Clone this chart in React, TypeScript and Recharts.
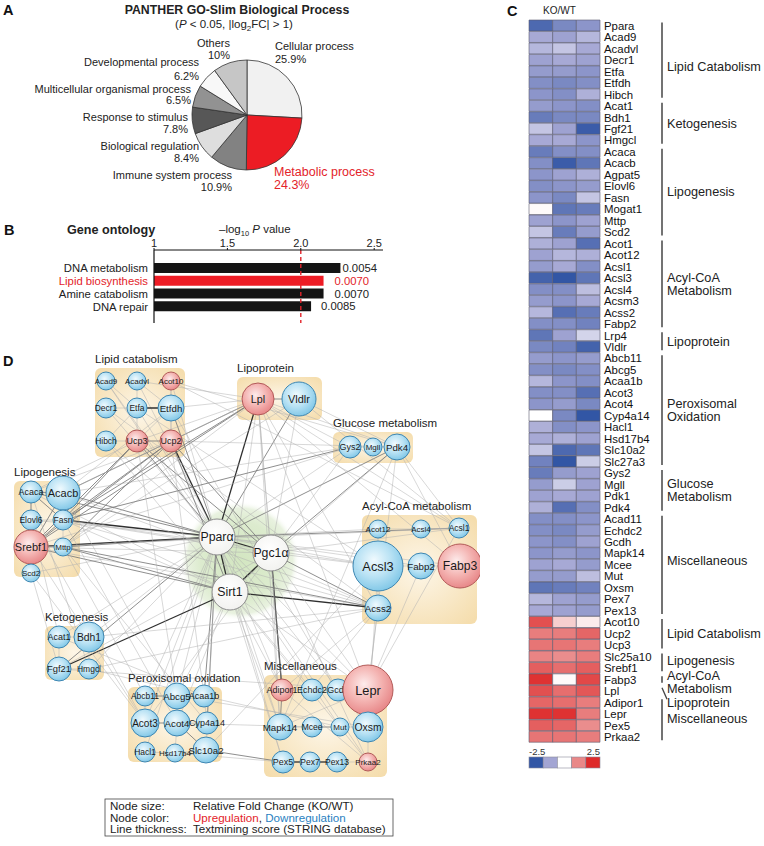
import React from 'react';
import {
  PieChart, Pie, Cell, BarChart, Bar, XAxis, YAxis, ReferenceLine, LabelList,
  ScatterChart, Scatter, ReferenceArea, ReferenceDot,
} from 'recharts';

const FONT = '"Liberation Sans", Arial, Helvetica, sans-serif';
const RED = '#e3232a';
const BLUE_TXT = '#2a7fc1';

// ---------- A: PANTHER GO-Slim pie ----------
const goProcess = [
  'Cellular process', 'Metabolic process', 'Immune system process', 'Biological regulation',
  'Response to stimulus', 'Multicellular organismal process', 'Developmental process', 'Others',
];
const goShare = [25.9, 24.3, 10.9, 8.4, 7.8, 6.5, 6.2, 10];
const goShareText = ['25.9%', '24.3%', '10.9%', '8.4%', '7.8%', '6.5%', '6.2%', '10%'];

const SLICE_FILL = ['#f1f1f1', '#ec1c24', '#828282', '#dedede', '#575757', '#929292', '#f8f8f8', '#c6c6c6'];
const PIE_CX = 247;
const PIE_CY = 115;
// label anchors, offsets from the pie centre
const PIE_LABEL = [
  { dx: 28, dy: -65, anchor: 'start', gap: 13 },
  { dx: 27, dy: 61, anchor: 'start', gap: 13.2 },
  { dx: -15, dy: 64, anchor: 'end', gap: 11.5 },
  { dx: -48, dy: 35, anchor: 'end', gap: 12 },
  { dx: -59, dy: 6, anchor: 'end', gap: 11.7 },
  { dx: -56, dy: -22, anchor: 'end', gap: 11.3 },
  { dx: -48, dy: -49, anchor: 'end', gap: 13.7 },
  { dx: -17, dy: -68, anchor: 'end', gap: 12 },
];

// ---------- B: gene ontology bars ----------
const ontologyTerm = ['DNA metabolism', 'Lipid biosynthesis', 'Amine catabolism', 'DNA repair'];
const ontologyLogP = [2.27, 2.155, 2.155, 2.07];
const ontologyP = ['0.0054', '0.0070', '0.0070', '0.0085'];
const ontologyTicks = [1, 1.5, 2, 2.5];
const P_LABEL_GAP = [2, 11, 11, 10];

// ---------- C: heatmap (log2 KO/WT, three replicates) ----------
const heatGenes = [
  'Ppara', 'Acad9', 'Acadvl', 'Decr1', 'Etfa', 'Etfdh', 'Hibch',
  'Acat1', 'Bdh1', 'Fgf21', 'Hmgcl',
  'Acaca', 'Acacb', 'Agpat5', 'Elovl6', 'Fasn', 'Mogat1', 'Mttp', 'Scd2',
  'Acot1', 'Acot12', 'Acsl1', 'Acsl3', 'Acsl4', 'Acsm3', 'Acss2', 'Fabp2',
  'Lrp4', 'Vldlr',
  'Abcb11', 'Abcg5', 'Acaa1b', 'Acot3', 'Acot4', 'Cyp4a14', 'Hacl1', 'Hsd17b4', 'Slc10a2', 'Slc27a3',
  'Gys2', 'Mgll', 'Pdk1', 'Pdk4',
  'Acad11', 'Echdc2', 'Gcdh', 'Mapk14', 'Mcee', 'Mut', 'Oxsm', 'Pex7', 'Pex13',
  'Acot10', 'Ucp2', 'Ucp3', 'Slc25a10', 'Srebf1', 'Fabp3', 'Lpl', 'Adipor1', 'Lepr', 'Pex5', 'Prkaa2',
];
const heatRep1 = [
  -2.2, -1.2, -1.0, -1.3, -1.4, -1.6, -1.5,
  -1.4, -1.9, -0.8, -1.2,
  -1.9, -1.6, -1.5, -1.6, -1.5, 0.05, -1.3, -0.8,
  -1.1, -1.3, -1.4, -2.3, -1.6, -1.4, -1.0, -1.6,
  -2.0, -1.7,
  -1.4, -1.6, -1.0, -1.6, -1.5, 0.0, -1.1, -1.2, -0.8, -1.8,
  -1.9, -1.4, -1.3, -1.1,
  -1.6, -1.6, -1.5, -1.5, -1.3, -1.4, -2.0, -1.0, -1.2,
  2.0, 1.4, 1.5, 1.3, 1.8, 2.4, 2.0, 1.7, 2.4, 1.8, 1.5,
];
const heatRep2 = [
  -1.7, -1.3, -0.8, -1.2, -1.4, -1.7, -1.6,
  -1.5, -1.7, -1.3, -1.2,
  -1.6, -2.4, -1.3, -1.5, -1.7, -2.0, -1.5, -1.9,
  -1.3, -1.0, -1.2, -2.5, -1.6, -1.5, -2.1, -1.6,
  -1.3, -1.8,
  -1.5, -1.7, -1.5, -1.6, -1.4, -1.7, -1.6, -1.1, -2.2, -2.5,
  -1.4, -0.7, -1.2, -2.1,
  -1.6, -1.7, -1.6, -1.4, -1.2, -1.4, -1.9, -1.3, -1.3,
  0.5, 1.4, 1.5, 1.2, 1.6, 0.05, 1.6, 1.6, 2.4, 1.7, 1.5,
];
const heatRep3 = [
  -1.5, -1.0, -1.2, -1.3, -1.5, -1.6, -1.1,
  -1.6, -1.7, -2.4, -1.5,
  -1.6, -2.0, -1.1, -1.4, -0.8, -1.9, -1.3, -1.4,
  -2.1, -1.1, -1.6, -2.0, -0.9, -1.2, -1.9, -1.8,
  -0.6, -2.3,
  -1.4, -1.6, -1.6, -2.1, -1.7, -2.5, -1.5, -1.3, -2.0, -0.7,
  -1.3, -1.3, -1.3, -1.6,
  -1.5, -1.4, -1.3, -1.5, -1.4, -0.9, -1.8, -1.4, -1.4,
  0.2, 1.7, 1.4, 1.4, 1.8, 2.1, 1.9, 1.4, 1.4, 1.2, 1.4,
];
const heatGroups = [
  { name: ['Lipid Catabolism'], from: 0, to: 6, dy: 6 },
  { name: ['Ketogenesis'], from: 7, to: 10 },
  { name: ['Lipogenesis'], from: 11, to: 18 },
  { name: ['Acyl-CoA', 'Metabolism'], from: 19, to: 26 },
  { name: ['Lipoprotein'], from: 27, to: 28 },
  { name: ['Peroxisomal', 'Oxidation'], from: 29, to: 38 },
  { name: ['Glucose', 'Metabolism'], from: 39, to: 42 },
  { name: ['Miscellaneous'], from: 43, to: 51, dy: -4 },
  { name: ['Lipid Catabolism'], from: 52, to: 54 },
  { name: ['Lipogenesis'], from: 55, to: 56, dy: -1.5 },
  { name: ['Acyl-CoA', 'Metabolism'], from: 57, to: 57, dy: 2.5 },
  { name: ['Lipoprotein'], from: 58, to: 58, dy: 12, slant: true },
  { name: ['Miscellaneous'], from: 59, to: 62, dy: -1 },
];
const heatLegendValues = [-2.5, -1.25, 0, 1.25, 2.5];

const HEAT_STOPS: [number, number[]][] = [
  [-2.5, [50, 86, 165]],
  [-1.25, [163, 165, 211]],
  [0, [255, 255, 255]],
  [1.25, [233, 136, 136]],
  [2.5, [222, 42, 42]],
];
function heatColor(v: number) {
  const c = Math.max(-2.5, Math.min(2.5, v));
  for (let i = 0; i < HEAT_STOPS.length - 1; i++) {
    const [a, ca] = HEAT_STOPS[i];
    const [b, cb] = HEAT_STOPS[i + 1];
    if (c <= b) {
      const t = (c - a) / (b - a);
      const rgb = ca.map((x, k) => Math.round(x + (cb[k] - x) * t));
      return `rgb(${rgb.join(',')})`;
    }
  }
  return 'rgb(222,42,42)';
}

// ---------- D: interaction network ----------
// reg: up / down / hub ; fold: relative fold change (drives node size)
const netNodes = [
  { id: 'Acad9', reg: 'down', fold: 1.0 }, { id: 'Acadvl', reg: 'down', fold: 1.0 },
  { id: 'Acot10', reg: 'up', fold: 1.0 }, { id: 'Decr1', reg: 'down', fold: 1.2 },
  { id: 'Etfa', reg: 'down', fold: 1.2 }, { id: 'Etfdh', reg: 'down', fold: 1.8 },
  { id: 'Hibch', reg: 'down', fold: 1.2 }, { id: 'Ucp3', reg: 'up', fold: 1.4 },
  { id: 'Ucp2', reg: 'up', fold: 1.4 },
  { id: 'Lpl', reg: 'up', fold: 2.4 }, { id: 'Vldlr', reg: 'down', fold: 2.6 },
  { id: 'Gys2', reg: 'down', fold: 1.4 }, { id: 'Mgll', reg: 'down', fold: 1.0 },
  { id: 'Pdk4', reg: 'down', fold: 1.8 },
  { id: 'Acaca', reg: 'down', fold: 1.4 }, { id: 'Acacb', reg: 'down', fold: 2.6 },
  { id: 'Elovl6', reg: 'down', fold: 1.2 }, { id: 'Fasn', reg: 'down', fold: 1.2 },
  { id: 'Srebf1', reg: 'up', fold: 2.6 }, { id: 'Mttp', reg: 'down', fold: 1.0 },
  { id: 'Scd2', reg: 'down', fold: 1.0 },
  { id: 'Acat1', reg: 'down', fold: 1.4 }, { id: 'Bdh1', reg: 'down', fold: 2.2 },
  { id: 'Fgf21', reg: 'down', fold: 1.6 }, { id: 'Hmgcl', reg: 'down', fold: 1.2 },
  { id: 'Acot12', reg: 'down', fold: 1.0 }, { id: 'Acsl4', reg: 'down', fold: 1.0 },
  { id: 'Acsl1', reg: 'down', fold: 1.2 }, { id: 'Acsl3', reg: 'down', fold: 4.2 },
  { id: 'Fabp2', reg: 'down', fold: 1.8 }, { id: 'Fabp3', reg: 'up', fold: 3.6 },
  { id: 'Acss2', reg: 'down', fold: 1.8 },
  { id: 'Abcb11', reg: 'down', fold: 1.2 }, { id: 'Abcg5', reg: 'down', fold: 1.8 },
  { id: 'Acaa1b', reg: 'down', fold: 1.4 }, { id: 'Acot3', reg: 'down', fold: 2.0 },
  { id: 'Acot4', reg: 'down', fold: 1.8 }, { id: 'Cyp4a14', reg: 'down', fold: 1.4 },
  { id: 'Hacl1', reg: 'down', fold: 1.2 }, { id: 'Hsd17b4', reg: 'down', fold: 1.0 },
  { id: 'Slc10a2', reg: 'down', fold: 1.8 },
  { id: 'Adipor1', reg: 'up', fold: 1.4 }, { id: 'Echdc2', reg: 'down', fold: 1.4 },
  { id: 'Gcdh', reg: 'down', fold: 1.4 }, { id: 'Lepr', reg: 'up', fold: 4.2 },
  { id: 'Mapk14', reg: 'down', fold: 1.8 }, { id: 'Mcee', reg: 'down', fold: 1.2 },
  { id: 'Mut', reg: 'down', fold: 1.0 }, { id: 'Oxsm', reg: 'down', fold: 2.2 },
  { id: 'Pex5', reg: 'down', fold: 1.4 }, { id: 'Pex7', reg: 'down', fold: 1.2 },
  { id: 'Pex13', reg: 'down', fold: 1.2 }, { id: 'Prkaa2', reg: 'up', fold: 1.0 },
  { id: 'Pparα', reg: 'hub', fold: 2.8 }, { id: 'Pgc1α', reg: 'hub', fold: 2.8 },
  { id: 'Sirt1', reg: 'hub', fold: 2.8 },
];

// layout of the network drawing (same units as the figure)
const NODE_POS: Record<string, [number, number]> = {
  Acad9: [106, 381], Acadvl: [137, 381], Acot10: [171, 381],
  Decr1: [106, 408], Etfa: [137, 408], Etfdh: [171, 408],
  Hibch: [106, 441], Ucp3: [137, 441], Ucp2: [171, 441],
  Lpl: [258, 399], Vldlr: [299, 399],
  Gys2: [350, 447], Mgll: [373, 447], Pdk4: [397, 447],
  Acaca: [31, 492], Acacb: [63, 493], Elovl6: [31, 520], Fasn: [63, 520],
  Srebf1: [31, 547], Mttp: [63, 547], Scd2: [31, 573],
  Acat1: [59, 637], Bdh1: [89, 637], Fgf21: [59, 669], Hmgcl: [89, 669],
  Acot12: [378, 529], Acsl4: [421, 529], Acsl1: [459, 528],
  Acsl3: [378, 566], Fabp2: [421, 566], Fabp3: [460, 566], Acss2: [378, 608],
  Abcb11: [145, 696], Abcg5: [177, 696], Acaa1b: [204, 696],
  Acot3: [145, 723], Acot4: [177, 723], Cyp4a14: [207, 723],
  Hacl1: [145, 752], Hsd17b4: [175, 753], Slc10a2: [206, 750],
  Adipor1: [282, 690], Echdc2: [312, 690], Gcdh: [338, 690], Lepr: [368, 690],
  Mapk14: [280, 727], Mcee: [312, 727], Mut: [340, 727], Oxsm: [368, 727],
  Pex5: [283, 762], Pex7: [310, 762], Pex13: [337, 762], Prkaa2: [368, 762],
  'Pparα': [217, 537], 'Pgc1α': [271, 553], Sirt1: [230, 592],
};

const netGroups = [
  { name: 'Lipid catabolism', x1: 95, x2: 185, y1: 368, y2: 457 },
  { name: 'Lipoprotein', x1: 237, x2: 322, y1: 377, y2: 420 },
  { name: 'Glucose metabolism', x1: 333, x2: 413, y1: 432, y2: 463 },
  { name: 'Lipogenesis', x1: 14, x2: 80, y1: 481, y2: 577 },
  { name: 'Acyl-CoA metabolism', x1: 362, x2: 477, y1: 515, y2: 624 },
  { name: 'Ketogenesis', x1: 45, x2: 104, y1: 626, y2: 680 },
  { name: 'Peroxisomal oxidation', x1: 128, x2: 222, y1: 687, y2: 762 },
  { name: 'Miscellaneous', x1: 264, x2: 387, y1: 675, y2: 777 },
];

// [a, b, textmining score class 1..3]
const netEdges: [string, string, number][] = [
  ['Pparα', 'Pgc1α', 3], ['Pparα', 'Sirt1', 3], ['Pgc1α', 'Sirt1', 3],
  ['Pparα', 'Ucp2', 3], ['Pparα', 'Ucp3', 2], ['Pparα', 'Etfdh', 2], ['Pparα', 'Etfa', 1], ['Pparα', 'Acadvl', 1],
  ['Pparα', 'Acad9', 1], ['Pparα', 'Decr1', 1], ['Pparα', 'Hibch', 1], ['Pparα', 'Acot10', 1],
  ['Pparα', 'Lpl', 3], ['Pparα', 'Vldlr', 2], ['Pparα', 'Pdk4', 2], ['Pparα', 'Gys2', 1],
  ['Pparα', 'Acaca', 2], ['Pparα', 'Acacb', 2], ['Pparα', 'Fasn', 3], ['Pparα', 'Srebf1', 3], ['Pparα', 'Mttp', 2],
  ['Pparα', 'Elovl6', 1], ['Pparα', 'Scd2', 1],
  ['Pparα', 'Acat1', 1], ['Pparα', 'Bdh1', 1], ['Pparα', 'Fgf21', 2], ['Pparα', 'Hmgcl', 1],
  ['Pparα', 'Acsl1', 2], ['Pparα', 'Acsl3', 1], ['Pparα', 'Acot12', 1], ['Pparα', 'Fabp2', 1], ['Pparα', 'Fabp3', 1],
  ['Pparα', 'Acss2', 1], ['Pparα', 'Abcb11', 1], ['Pparα', 'Acaa1b', 2], ['Pparα', 'Acot3', 1], ['Pparα', 'Cyp4a14', 2],
  ['Pparα', 'Hacl1', 1], ['Pparα', 'Slc10a2', 1], ['Pparα', 'Abcg5', 1],
  ['Pparα', 'Adipor1', 1], ['Pparα', 'Lepr', 1], ['Pparα', 'Pex5', 1], ['Pparα', 'Mapk14', 1], ['Pparα', 'Prkaa2', 1],
  ['Pparα', 'Oxsm', 1],
  ['Sirt1', 'Srebf1', 2], ['Sirt1', 'Mttp', 2], ['Sirt1', 'Acss2', 3], ['Sirt1', 'Fgf21', 3], ['Sirt1', 'Lepr', 1],
  ['Sirt1', 'Prkaa2', 1], ['Sirt1', 'Ucp2', 2], ['Sirt1', 'Lpl', 1], ['Sirt1', 'Pdk4', 1], ['Sirt1', 'Fasn', 1],
  ['Sirt1', 'Abcg5', 1], ['Sirt1', 'Mapk14', 1], ['Sirt1', 'Acot4', 1], ['Sirt1', 'Acaca', 1], ['Sirt1', 'Adipor1', 1],
  ['Sirt1', 'Pex5', 1],
  ['Pgc1α', 'Ucp2', 2], ['Pgc1α', 'Ucp3', 2], ['Pgc1α', 'Lpl', 1], ['Pgc1α', 'Pdk4', 2], ['Pgc1α', 'Gys2', 1],
  ['Pgc1α', 'Srebf1', 1], ['Pgc1α', 'Acss2', 2], ['Pgc1α', 'Acsl3', 1], ['Pgc1α', 'Fgf21', 1], ['Pgc1α', 'Adipor1', 3],
  ['Pgc1α', 'Lepr', 1], ['Pgc1α', 'Prkaa2', 1], ['Pgc1α', 'Mapk14', 1], ['Pgc1α', 'Acsl1', 1], ['Pgc1α', 'Vldlr', 1],
  ['Pgc1α', 'Fasn', 1], ['Pgc1α', 'Acot3', 1],
  ['Acad9', 'Etfa', 1], ['Acadvl', 'Etfa', 1], ['Acadvl', 'Etfdh', 1], ['Etfa', 'Etfdh', 3], ['Decr1', 'Etfa', 1],
  ['Etfa', 'Ucp3', 1], ['Etfdh', 'Ucp2', 1], ['Ucp3', 'Ucp2', 2], ['Hibch', 'Ucp3', 1], ['Hibch', 'Etfa', 1],
  ['Acot10', 'Etfdh', 1], ['Acot10', 'Ucp2', 1], ['Etfdh', 'Ucp3', 1],
  ['Lpl', 'Vldlr', 2], ['Gys2', 'Mgll', 1], ['Mgll', 'Pdk4', 1],
  ['Acaca', 'Acacb', 2], ['Acaca', 'Fasn', 2], ['Acacb', 'Fasn', 2], ['Elovl6', 'Fasn', 1], ['Srebf1', 'Fasn', 2],
  ['Srebf1', 'Mttp', 1], ['Srebf1', 'Elovl6', 1], ['Srebf1', 'Scd2', 1], ['Srebf1', 'Acaca', 2], ['Srebf1', 'Acacb', 2],
  ['Fasn', 'Mttp', 1], ['Acaca', 'Elovl6', 1],
  ['Acat1', 'Bdh1', 1], ['Acat1', 'Fgf21', 1], ['Bdh1', 'Hmgcl', 1], ['Fgf21', 'Hmgcl', 1],
  ['Acot12', 'Acsl4', 1], ['Acsl4', 'Acsl1', 1], ['Acsl3', 'Fabp2', 1], ['Fabp2', 'Fabp3', 1], ['Acsl3', 'Acss2', 1],
  ['Acsl3', 'Acot12', 1],
  ['Abcb11', 'Abcg5', 2], ['Abcg5', 'Acaa1b', 1], ['Acot3', 'Acot4', 2], ['Acot4', 'Cyp4a14', 1], ['Hacl1', 'Hsd17b4', 1],
  ['Hsd17b4', 'Slc10a2', 1], ['Acot4', 'Slc10a2', 2], ['Acaa1b', 'Cyp4a14', 1], ['Abcb11', 'Acot3', 1],
  ['Acot4', 'Hsd17b4', 1], ['Abcg5', 'Acot4', 1],
  ['Adipor1', 'Echdc2', 1], ['Echdc2', 'Gcdh', 1], ['Gcdh', 'Lepr', 1], ['Adipor1', 'Mapk14', 2], ['Mcee', 'Mut', 2],
  ['Mapk14', 'Mcee', 1], ['Mut', 'Oxsm', 1], ['Pex5', 'Pex7', 3], ['Pex7', 'Pex13', 3], ['Pex13', 'Prkaa2', 1],
  ['Oxsm', 'Lepr', 1],
  ['Ucp2', 'Lpl', 2], ['Ucp3', 'Lpl', 1], ['Ucp2', 'Srebf1', 2], ['Ucp3', 'Fasn', 2], ['Ucp2', 'Acacb', 2],
  ['Etfdh', 'Acacb', 1], ['Ucp2', 'Mttp', 2], ['Ucp2', 'Pdk4', 1], ['Ucp3', 'Acaca', 1], ['Ucp2', 'Fasn', 2],
  ['Ucp3', 'Srebf1', 2], ['Ucp2', 'Acaca', 1],
  ['Lpl', 'Srebf1', 2], ['Lpl', 'Fasn', 2], ['Lpl', 'Acacb', 1], ['Lpl', 'Mttp', 1], ['Lpl', 'Pdk4', 1], ['Lpl', 'Gys2', 1],
  ['Lpl', 'Lepr', 1], ['Lpl', 'Adipor1', 1], ['Lpl', 'Fabp3', 1], ['Lpl', 'Acsl1', 1], ['Lpl', 'Mapk14', 1],
  ['Lpl', 'Acss2', 1],
  ['Vldlr', 'Mttp', 1], ['Vldlr', 'Pdk4', 1], ['Vldlr', 'Acsl1', 1],
  ['Srebf1', 'Acss2', 1], ['Mttp', 'Acss2', 2], ['Fasn', 'Acss2', 1], ['Acacb', 'Acss2', 1], ['Fasn', 'Acsl3', 1],
  ['Srebf1', 'Acsl1', 1], ['Gys2', 'Fasn', 2], ['Gys2', 'Srebf1', 1], ['Gys2', 'Acacb', 1],
  ['Pdk4', 'Lepr', 1], ['Pdk4', 'Fabp3', 1], ['Pdk4', 'Acsl1', 1], ['Pdk4', 'Mapk14', 1],
  ['Slc10a2', 'Pex5', 2], ['Hsd17b4', 'Pex5', 1], ['Acaa1b', 'Mut', 1], ['Abcg5', 'Oxsm', 1], ['Acot4', 'Mcee', 1],
  ['Fgf21', 'Lepr', 1], ['Bdh1', 'Acss2', 1], ['Acat1', 'Acaa1b', 1], ['Hmgcl', 'Acaa1b', 1], ['Hmgcl', 'Acss2', 1],
  ['Fabp2', 'Lepr', 1], ['Acss2', 'Lepr', 1], ['Acsl1', 'Lepr', 1], ['Scd2', 'Acot3', 1], ['Srebf1', 'Acot3', 1],
  ['Mttp', 'Cyp4a14', 1], ['Adipor1', 'Prkaa2', 1], ['Lepr', 'Prkaa2', 1],
  ['Acot10', 'Acsl1', 1], ['Acot10', 'Pdk4', 1], ['Etfdh', 'Lpl', 1], ['Acadvl', 'Lpl', 1],
  ['Fasn', 'Acot4', 1], ['Acacb', 'Abcg5', 1], ['Elovl6', 'Acot3', 1], ['Mttp', 'Abcb11', 1], ['Acaca', 'Hmgcl', 1],
  ['Scd2', 'Fgf21', 1], ['Elovl6', 'Acat1', 1],
  ['Ucp3', 'Abcg5', 1], ['Ucp2', 'Acaa1b', 1], ['Etfdh', 'Gcdh', 1], ['Etfa', 'Acsl3', 1], ['Decr1', 'Acss2', 1],
  ['Hibch', 'Echdc2', 1], ['Acad9', 'Mut', 1],
  ['Lepr', 'Mapk14', 1], ['Mapk14', 'Acss2', 1], ['Acsl3', 'Slc10a2', 1], ['Oxsm', 'Acsl3', 1], ['Acss2', 'Adipor1', 1],
];

const EDGE_STYLE: Record<number, { stroke: string; width: number }> = {
  1: { stroke: '#b0b0b0', width: 0.5 },
  2: { stroke: '#7a7a7a', width: 0.85 },
  3: { stroke: '#2f2f2f', width: 1.3 },
};

function nodeRadius(fold: number) {
  return 4 + fold * 5;
}

// ---------- render helpers ----------
function renderPieLabel(props: any) {
  let index = props.index;
  if (index === undefined) index = goProcess.indexOf(props.name);
  const pos = PIE_LABEL[index];
  if (!pos) return null;
  const isRed = index === 1;
  const x = PIE_CX + pos.dx;
  return (
    <text key={`pl${index}`} x={x} y={PIE_CY + pos.dy} textAnchor={pos.anchor as any}
      fontSize={isRed ? 12.5 : 11} fill={isRed ? RED : '#222'} fontFamily={FONT}>
      <tspan x={x}>{goProcess[index]}</tspan>
      <tspan x={x} dy={pos.gap}>{goShareText[index]}</tspan>
    </text>
  );
}

const TermTick = (props: any) => {
  const { x, y, payload } = props;
  const red = payload.value === 'Lipid biosynthesis';
  return (
    <text x={x} y={y} dy="0.35em" textAnchor="end" fontSize={11.3} fill={red ? RED : '#222'} fontFamily={FONT}>
      {payload.value}
    </text>
  );
};

const renderPLabel = (props: any) => {
  const { x, y, width, height, value } = props;
  const [i, p] = String(value).split('|');
  const idx = Number(i);
  return (
    <text x={x + width + P_LABEL_GAP[idx]} y={y + height / 2} dy="0.36em" fontSize={11.3}
      fill={idx === 1 ? RED : '#222'} fontFamily={FONT}>
      {p}
    </text>
  );
};

const NodeShape = (props: any) => {
  const { cx, cy, payload } = props;
  if (cx == null || cy == null) return null;
  const r = nodeRadius(payload.fold);
  const up = payload.reg === 'up';
  const hub = payload.reg === 'hub';
  const fill = hub ? 'url(#gHub)' : up ? 'url(#gRed)' : 'url(#gBlue)';
  const stroke = hub ? '#8c8c8c' : up ? '#b25a58' : '#3d86b2';
  const fs = hub ? 12.3 : Math.min(13, -2.33 + 4.7 * Math.log(r));
  return (
    <g>
      <circle cx={cx} cy={cy} r={r} fill={fill} stroke={stroke} strokeWidth={1} />
      <text x={cx} y={cy} dy="0.36em" textAnchor="middle" fontSize={fs} fill="#1a1a1a" fontFamily={FONT}>
        {payload.id}
      </text>
    </g>
  );
};

const GroupLabelShape = (props: any) => {
  const { cx, cy, payload } = props;
  if (cx == null || cy == null) return null;
  return (
    <text x={cx} y={cy - 5} fontSize={11.5} fill="#222" fontFamily={FONT}>{payload.name}</text>
  );
};

const BoxShape = (props: any) => {
  const { x, y, width, height } = props;
  return <rect x={x} y={y} width={width} height={height} rx={6} ry={6} fill="url(#gBox)" />;
};

const GlowShape = (props: any) => {
  const { cx, cy } = props;
  return <circle cx={cx} cy={cy} r={60} fill="url(#gGlow)" />;
};

export default function App() {
  const pieData = goProcess.map((name, i) => ({ name, value: goShare[i] }));
  const ontologyData = ontologyTerm.map((term, i) => ({ term, logP: ontologyLogP[i], tag: `${i}|${ontologyP[i]}` }));
  const heatData = heatGenes.map((gene, i) => ({
    gene, w0: 1, w1: 1, w2: 1, v: [heatRep1[i], heatRep2[i], heatRep3[i]],
  }));
  const nodeData = netNodes.map((n) => ({ ...n, x: NODE_POS[n.id][0], y: NODE_POS[n.id][1] }));
  const groupLabelData = netGroups.map((g) => ({ name: g.name, x: g.x1, y: g.y1 }));

  // heatmap geometry for the annotation overlay
  const HEAT_TOP = 20;
  const HEAT_BOTTOM = 742.7;
  const rowH = (HEAT_BOTTOM - HEAT_TOP) / heatGenes.length;
  const rowTop = (i: number) => HEAT_TOP + i * rowH;
  const HEAT_L = 529;
  const HEAT_R = 600;

  return (
    <div style={{ position: 'absolute', left: 0, top: 0, width: 764, height: 846, background: '#fff', fontFamily: FONT, overflow: 'hidden' }}>
      {/* A */}
      <div style={{ position: 'absolute', left: 0, top: 0 }}>
        <PieChart width={430} height={200} margin={{ top: 0, right: 0, bottom: 0, left: 0 }}>
          <Pie data={pieData} dataKey="value" nameKey="name" cx={PIE_CX} cy={PIE_CY} outerRadius={55}
            startAngle={90} endAngle={-270} stroke="#333" strokeWidth={0.8}
            label={renderPieLabel} labelLine={false} isAnimationActive={false}>
            {pieData.map((_, i) => <Cell key={i} fill={SLICE_FILL[i]} />)}
          </Pie>
        </PieChart>
      </div>

      {/* B */}
      <div style={{ position: 'absolute', left: 0, top: 236 }}>
        <BarChart layout="vertical" width={430} height={92} data={ontologyData}
          margin={{ top: 0, right: 47, bottom: 5, left: 8 }} barSize={10}>
          <XAxis type="number" orientation="top" domain={[1, 2.56]} ticks={ontologyTicks} allowDataOverflow
            tickFormatter={(v: number) => (v === 1 ? '1' : v.toFixed(1))} height={14} tickSize={2} tickMargin={1}
            axisLine={{ stroke: '#111' }} tickLine={{ stroke: '#111' }}
            tick={{ fontSize: 11, fill: '#222', fontFamily: FONT }} />
          <YAxis type="category" dataKey="term" width={146} tickSize={0} tickMargin={6} interval={0}
            axisLine={{ stroke: '#111', strokeWidth: 1.2 }} tickLine={false} tick={<TermTick />}
            padding={{ top: 12, bottom: 10 }} />
          <Bar dataKey="logP" isAnimationActive={false}>
            {ontologyData.map((_, i) => <Cell key={i} fill={i === 1 ? '#ee1c25' : '#141414'} />)}
            <LabelList dataKey="tag" content={renderPLabel} />
          </Bar>
          <ReferenceLine x={2} stroke={RED} strokeDasharray="4 3" strokeWidth={1.4} />
        </BarChart>
      </div>

      {/* C */}
      <div style={{ position: 'absolute', left: 520, top: 0 }}>
        <BarChart layout="vertical" width={140} height={760} data={heatData}
          margin={{ top: HEAT_TOP, right: 0, bottom: 760 - HEAT_BOTTOM, left: HEAT_L - 520 }} barCategoryGap={0}>
          <XAxis type="number" domain={[0, 3]} hide />
          <YAxis type="category" dataKey="gene" orientation="right" width={60} interval={0}
            tickSize={2} tickMargin={2} axisLine={false} tickLine={false}
            tick={{ fontSize: 11.4, fill: '#111', fontFamily: FONT }} />
          {[0, 1, 2].map((k) => (
            <Bar key={k} dataKey={`w${k}`} stackId="h" isAnimationActive={false}>
              {heatData.map((d, i) => (
                <Cell key={i} fill={heatColor(d.v[k])} stroke="#5a5a6e" strokeWidth={0.6} />
              ))}
            </Bar>
          ))}
        </BarChart>
      </div>

      {/* D */}
      <div style={{ position: 'absolute', left: 0, top: 340 }}>
        <ScatterChart width={480} height={460} margin={{ top: 0, right: 0, bottom: 0, left: 0 }}>
          <XAxis type="number" dataKey="x" domain={[0, 480]} hide allowDataOverflow />
          <YAxis type="number" dataKey="y" domain={[340, 800]} reversed hide allowDataOverflow />
          {netGroups.map((g) => (
            <ReferenceArea key={g.name} x1={g.x1} x2={g.x2} y1={g.y1} y2={g.y2} shape={BoxShape}
              ifOverflow="visible" {...({ zIndex: 50 } as any)} />
          ))}
          <ReferenceDot x={240} y={561} r={60} shape={GlowShape} ifOverflow="visible" {...({ zIndex: 60 } as any)} />
          {netEdges.map(([a, b, w], i) => {
            const pa = NODE_POS[a];
            const pb = NODE_POS[b];
            const st = EDGE_STYLE[w];
            return (
              <ReferenceLine key={`e${i}`} segment={[{ x: pa[0], y: pa[1] }, { x: pb[0], y: pb[1] }]}
                stroke={st.stroke} strokeWidth={st.width} ifOverflow="visible" {...({ zIndex: 400 } as any)} />
            );
          })}
          <Scatter data={nodeData} shape={NodeShape} isAnimationActive={false} {...({ zIndex: 600 } as any)} />
          <Scatter data={groupLabelData} shape={GroupLabelShape} isAnimationActive={false} {...({ zIndex: 700 } as any)} />
        </ScatterChart>
      </div>

      {/* annotations */}
      <svg width={764} height={846} style={{ position: 'absolute', left: 0, top: 0, pointerEvents: 'none' }}
        fontFamily={FONT}>
        <defs>
          <radialGradient id="gBlue" cx="42%" cy="38%" r="62%">
            <stop offset="0%" stopColor="#f0fafe" />
            <stop offset="55%" stopColor="#b9e2f4" />
            <stop offset="100%" stopColor="#84c9e8" />
          </radialGradient>
          <radialGradient id="gRed" cx="42%" cy="38%" r="62%">
            <stop offset="0%" stopColor="#fdecec" />
            <stop offset="55%" stopColor="#f4b4b2" />
            <stop offset="100%" stopColor="#e8898a" />
          </radialGradient>
          <radialGradient id="gHub" cx="45%" cy="40%" r="65%">
            <stop offset="0%" stopColor="#ffffff" />
            <stop offset="100%" stopColor="#f1f1ee" />
          </radialGradient>
          <radialGradient id="gGlow" cx="50%" cy="50%" r="50%">
            <stop offset="0%" stopColor="#d3e6c1" />
            <stop offset="65%" stopColor="#dcebce" />
            <stop offset="88%" stopColor="#e9f2e0" />
            <stop offset="100%" stopColor="#ffffff" stopOpacity={0} />
          </radialGradient>
          <radialGradient id="gBox" cx="50%" cy="50%" r="72%">
            <stop offset="0%" stopColor="#fdf6e8" />
            <stop offset="100%" stopColor="#f4dba8" />
          </radialGradient>
        </defs>

        {/* panel letters */}
        <text x={3} y={15} fontSize={14.5} fontWeight="bold" fill="#111">A</text>
        <text x={4} y={235} fontSize={14.5} fontWeight="bold" fill="#111">B</text>
        <text x={507} y={16} fontSize={14.5} fontWeight="bold" fill="#111">C</text>
        <text x={3} y={366} fontSize={14.5} fontWeight="bold" fill="#111">D</text>

        {/* A titles */}
        <text x={237} y={14} textAnchor="middle" fontSize={12.3} fontWeight="bold" fill="#222">
          PANTHER GO-Slim Biological Process
        </text>
        <text x={234} y={28} textAnchor="middle" fontSize={11.5} fill="#222">
          (<tspan fontStyle="italic">P</tspan> &lt; 0.05, |log<tspan fontSize={8} dy={3}>2</tspan>
          <tspan dy={-3}>FC| &gt; 1)</tspan>
        </text>

        {/* B titles */}
        <text x={67} y={234} fontSize={12.6} fontWeight="bold" fill="#222">Gene ontology</text>
        <text x={219} y={233} fontSize={11.5} fill="#222">
          –log<tspan fontSize={7.5} dy={2.5}>10</tspan>
          <tspan dy={-2.5}> </tspan><tspan fontStyle="italic">P</tspan> value
        </text>

        {/* C header */}
        <text x={543} y={14} fontSize={10} fill="#222">KO/WT</text>

        {/* C brackets */}
        {heatGroups.map((g, i) => {
          const t = rowTop(g.from);
          const b = rowTop(g.to + 1);
          const mid = (t + b) / 2 + (g.dy || 0);
          const n = g.name.length;
          return (
            <g key={`hg${i}`}>
              {g.slant ? (
                <line x1={662} y1={t + 2.5} x2={667} y2={t + 14} stroke="#444" strokeWidth={1.3} />
              ) : (
                <line x1={662} y1={t + 2.5} x2={662} y2={b - 2.5} stroke="#444" strokeWidth={1.5} />
              )}
              <text x={667} y={mid - ((n - 1) * 12.8) / 2 + 4.4} fontSize={12.7} fill="#222">
                {g.name.map((s, k) => (
                  <tspan key={k} x={667} dy={k === 0 ? 0 : 12.8}>{s}</tspan>
                ))}
              </text>
            </g>
          );
        })}

        {/* C colour legend */}
        <text x={HEAT_L} y={755} fontSize={9.5} fill="#333">-2.5</text>
        <text x={HEAT_R} y={755} fontSize={9.5} fill="#333" textAnchor="end">2.5</text>
        {heatLegendValues.map((v, i) => {
          const w = (HEAT_R - HEAT_L) / heatLegendValues.length;
          return (
            <rect key={`lg${i}`} x={HEAT_L + i * w} y={757} width={w} height={11}
              fill={heatColor(v)} stroke="#8a8a9a" strokeWidth={0.6} />
          );
        })}

        {/* D legend box */}
        <rect x={105} y={799} width={288} height={37} fill="#fff" stroke="#444" strokeWidth={0.8} />
        <g fontSize={11.6} fill="#222">
          <text x={110} y={810}>Node size:</text>
          <text x={193} y={810}>Relative Fold Change (KO/WT)</text>
          <text x={110} y={821.5}>Node color:</text>
          <text x={193} y={821.5}>
            <tspan fill={RED}>Upregulation</tspan>, <tspan fill={BLUE_TXT}>Downregulation</tspan>
          </text>
          <text x={110} y={833}>Line thickness:</text>
          <text x={193} y={833}>Textmining score (STRING database)</text>
        </g>
      </svg>
    </div>
  );
}
